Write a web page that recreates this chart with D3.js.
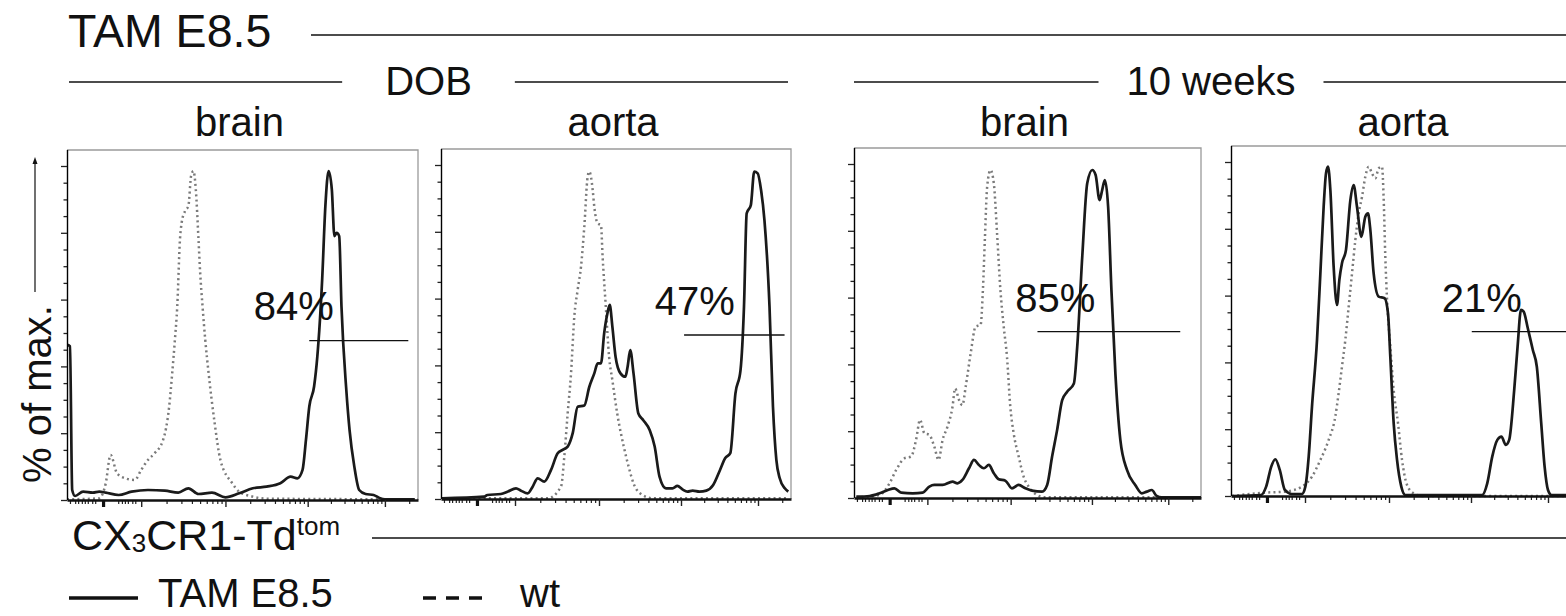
<!DOCTYPE html>
<html><head><meta charset="utf-8">
<script src="https://cdn.jsdelivr.net/npm/d3@7"></script>
<style>
body{margin:0;background:#fff;}
svg text{font-family:"Liberation Sans", Arial, Helvetica, sans-serif; fill:#111;}
</style></head><body>
<svg id="chart" width="1566" height="616"></svg>
<script>
// ---------------- DATA ----------------
// x values: display position in decades of CX3CR1-Td^tom fluorescence (2 = 10^2 ... 5 = 10^5)
// y values: % of max.
const titleText = "TAM E8.5";
const groupLabels = ["DOB", "10 weeks"];
const tissueLabels = ["brain", "aorta", "brain", "aorta"];
const gateTexts = ["84%", "47%", "85%", "21%"];
const gateRanges = [[4.02, 5.29], [4.04, 5.33], [3.33, 5.15], [4.01, 5.41]];
const gateLevels = [47.7, 49.1, 49.8, 49.2];
const gateLabelAt = [[3.83, 53.9], [4.18, 55.1], [3.55, 55.7], [4.14, 55.1]];
const legendLabels = ["TAM E8.5", "wt"];
const yAxisLabel = "% of max.";

const xDomainStops = [1, 2, 3, 4, 5, 5.41];
const xZeroTick = [1.486];
const xMajorTicks = [2, 3, 4, 5];
const xMinorTicks = [1.04, 1.11, 1.15, 1.2, 1.24, 1.28, 1.34, 1.38,
  1.69, 1.74, 1.78, 1.82, 1.88, 1.92,
  2.301, 2.477, 2.602, 2.699, 2.778, 2.845, 2.903, 2.954,
  3.301, 3.477, 3.602, 3.699, 3.778, 3.845, 3.903, 3.954,
  4.301, 4.477, 4.602, 4.699, 4.778, 4.845, 4.903, 4.954, 5.301];
const yMajorTicks = [0, 20, 40, 60, 80, 100];
const yMinorTicks = [5, 10, 15, 25, 30, 35, 45, 50, 55, 65, 70, 75, 85, 90, 95];

const tamDOBbrain = [[1.005,46.5],[1.04,46],[1.07,3],[1.109,1.2],[1.217,2.5],[1.348,2.2],[1.435,2.5],[1.522,2.2],[1.696,1.5],[1.87,2.5],[2.08,3],[2.28,2.8],[2.44,2.2],[2.56,3.5],[2.68,1.8],[2.84,2.2],[3.0,0.8],[3.167,2],[3.333,3.5],[3.5,4],[3.667,5],[3.792,7],[3.875,6.5],[3.9375,9],[3.979,18],[4.021,28],[4.083,34],[4.125,43],[4.1875,66],[4.229,88],[4.271,98.5],[4.3125,93],[4.346,79],[4.375,80],[4.408,79],[4.4375,58],[4.5,33],[4.542,21],[4.604,10],[4.667,3],[4.75,1.8],[4.854,1.5],[4.9375,0.5],[5.0,0.2],[5.37,0.2]];
const wtDOBbrain = [[1.0,0.2],[1.435,0.5],[1.522,5],[1.587,13.5],[1.674,8],[1.783,6.5],[1.913,6],[2.0,9],[2.08,12],[2.16,14],[2.26,18],[2.332,28],[2.368,38],[2.4,48],[2.428,58],[2.46,78],[2.48,83],[2.52,86.5],[2.56,88],[2.592,97],[2.62,98.5],[2.648,93],[2.68,78],[2.7,68],[2.728,58],[2.76,48],[2.8,38],[2.872,23],[2.94,12],[3.083,5],[3.167,2.5],[3.333,1],[3.5,0.4],[5.41,0.2]];

const tamDOBaorta = [[1.014,0.2],[1.582,0.7],[1.627,1.2],[1.809,1.5],[1.9,2.2],[2.012,3.2],[2.071,2.5],[2.151,1.7],[2.21,3.7],[2.27,6.2],[2.349,5.2],[2.429,8.7],[2.508,13.7],[2.567,14.7],[2.627,15.7],[2.687,19.7],[2.746,27.6],[2.825,28],[2.885,33.6],[2.944,37.6],[2.984,40.6],[3.024,40.6],[3.063,49.6],[3.103,55.6],[3.131,58.1],[3.163,51.6],[3.202,42.6],[3.262,37.6],[3.321,36.6],[3.349,39.6],[3.381,44.6],[3.421,37.6],[3.48,25.6],[3.54,23.6],[3.619,20.6],[3.679,15.7],[3.738,6.7],[3.817,3.2],[3.897,3.2],[3.956,3.9],[4.018,2.9],[4.084,2.2],[4.151,2.5],[4.24,2.2],[4.329,2.5],[4.418,4.2],[4.507,8.7],[4.573,12.2],[4.64,13.7],[4.707,31.6],[4.773,38.6],[4.818,57.6],[4.853,85.5],[4.907,88],[4.951,98],[4.996,97.5],[5.038,92.5],[5.08,83.5],[5.143,57.6],[5.186,27.6],[5.228,11.7],[5.27,6.2],[5.333,3.2],[5.376,2.2]];
const wtDOBaorta = [[1.014,0.2],[2.389,0.2],[2.548,3.7],[2.587,12.7],[2.627,25.6],[2.667,37.6],[2.706,54.6],[2.746,62.6],[2.786,69.6],[2.825,81.5],[2.865,96.5],[2.885,98],[2.925,92.5],[2.944,87.5],[2.984,82.5],[3.024,82],[3.044,72.6],[3.083,57.6],[3.123,42.6],[3.163,35.6],[3.222,25.6],[3.302,15.7],[3.361,9.7],[3.421,4.7],[3.5,1.7],[3.659,0.2],[5.376,0.2]];

const tam10wkBrain = [[1.032,0.4],[1.213,0.6],[1.348,1.4],[1.462,2.4],[1.552,2.9],[1.643,1.6],[1.801,1.4],[1.937,1.6],[2.024,3.4],[2.083,3.9],[2.183,3.9],[2.302,4.9],[2.361,4.4],[2.421,5.4],[2.5,8.9],[2.56,11.4],[2.619,9.9],[2.679,8.9],[2.738,9.9],[2.798,7.4],[2.857,5.6],[2.937,5.2],[3.016,2.9],[3.099,3.9],[3.181,2.9],[3.263,2.2],[3.387,1.9],[3.449,3.9],[3.51,12.4],[3.572,20.4],[3.634,29.3],[3.695,31.8],[3.778,34.3],[3.819,45.3],[3.881,72.3],[3.942,94.2],[4.004,98.2],[4.048,96.7],[4.1,89.2],[4.134,92.2],[4.169,95.2],[4.212,87.2],[4.255,62.3],[4.307,37.3],[4.372,17.4],[4.459,8.4],[4.567,3.9],[4.654,1.4],[4.719,1.9],[4.784,2.4],[4.848,0.6],[4.913,0.2],[5.41,0.2]];
const wt10wkBrain = [[1.032,0.2],[1.348,0.9],[1.484,4.4],[1.575,8.4],[1.688,11.9],[1.778,12.4],[1.846,17.4],[1.9,23.4],[1.959,19.4],[2.024,18.9],[2.083,15.4],[2.135,11.4],[2.183,17.4],[2.242,21.4],[2.302,27.3],[2.333,32.8],[2.381,29.3],[2.421,27.8],[2.46,33.3],[2.52,43.3],[2.579,51.3],[2.639,51.8],[2.667,62.3],[2.69,77.2],[2.718,93.2],[2.758,98.2],[2.798,94.2],[2.837,79.2],[2.877,62.3],[2.917,51.3],[2.956,42.3],[2.996,27.3],[3.037,19.4],[3.099,12.4],[3.16,6.4],[3.222,3.4],[3.305,1.2],[3.428,0.2],[5.41,0.2]];

const tam10wkAorta = [[1.014,0],[1.406,0.3],[1.475,2.8],[1.544,8.8],[1.599,11],[1.659,7.8],[1.728,1.8],[1.82,0.6],[1.959,0.6],[2.004,2.8],[2.044,11.8],[2.083,26.7],[2.143,46.7],[2.183,66.7],[2.222,86.6],[2.25,96.6],[2.274,98.6],[2.302,91.6],[2.341,68.7],[2.381,57.2],[2.409,64.7],[2.44,69.7],[2.488,73.7],[2.54,88.6],[2.579,93.1],[2.619,86.6],[2.671,77.6],[2.718,83.6],[2.75,84.6],[2.778,79.6],[2.817,66.7],[2.877,59.7],[2.948,59.2],[2.988,54.7],[3.016,41.7],[3.057,21.8],[3.098,10.8],[3.15,2.8],[3.199,0.3],[4.145,0.3],[4.211,3.8],[4.276,11.8],[4.342,16.8],[4.395,17.8],[4.452,15.3],[4.496,16.8],[4.561,31.7],[4.605,44.7],[4.649,55.7],[4.684,55.2],[4.737,50.3],[4.803,43.7],[4.855,38.7],[4.912,21.8],[4.956,8.8],[5.0,1.8],[5.043,0.3],[5.41,0.3]];
const wt10wkAorta = [[1.014,0],[1.452,1.0],[1.728,1.3],[1.959,2.8],[2.083,5.8],[2.183,10.8],[2.282,16.8],[2.361,23.8],[2.4,30.7],[2.44,38.7],[2.48,46.7],[2.52,56.7],[2.56,66.7],[2.599,76.6],[2.639,84.6],[2.679,89.6],[2.718,95.6],[2.758,98.6],[2.798,96.6],[2.837,95.1],[2.877,98.1],[2.917,98.6],[2.937,88.6],[2.956,71.7],[2.976,59.2],[3.016,44.7],[3.057,31.7],[3.11,21.8],[3.159,10.8],[3.22,3.3],[3.301,0.8],[3.402,0],[5.41,0]];

const tamSeries = [tamDOBbrain, tamDOBaorta, tam10wkBrain, tam10wkAorta];
const wtSeries = [wtDOBbrain, wtDOBaorta, wt10wkBrain, wt10wkAorta];

// ---------------- LAYOUT ----------------
const panels = [
  {left: 67, bottom: 500, width: 351},
  {left: 441, bottom: 499, width: 350},
  {left: 854, bottom: 498, width: 347},
  {left: 1231, bottom: 496, width: 350}
];
const xRangeStops = [0, 74, 158, 240, 317, 350];
const FS = 40;

const svg = d3.select("#chart");
svg.append("rect").attr("width", 1566).attr("height", 616).attr("fill", "#fff");

panels.forEach((p, i) => {
  const x = d3.scaleLinear().domain(xDomainStops)
    .range(xRangeStops.map(r => p.left + r * p.width / 350));
  const y = d3.scaleLinear().domain([0, 100]).range([p.bottom, p.bottom - 334]);
  const top = p.bottom - 350, right = p.left + p.width;
  const g = svg.append("g");

  // frame (top & right)
  g.append("path")
    .attr("d", `M${p.left},${top}H${right}V${p.bottom}`)
    .attr("fill", "none").attr("stroke", "#9a9a9a").attr("stroke-width", 1.3);

  const line = d3.line().x(d => x(d[0])).y(d => y(d[1])).curve(d3.curveMonotoneX);

  g.append("path").datum(wtSeries[i]).attr("d", line)
    .attr("fill", "none").attr("stroke", "#7a7a7a").attr("stroke-width", 2.5)
    .attr("stroke-dasharray", "2,3.2");
  g.append("path").datum(tamSeries[i]).attr("d", line)
    .attr("fill", "none").attr("stroke", "#1a1a1a").attr("stroke-width", 2.7)
    .attr("stroke-linejoin", "round");

  // y axis
  const yMinor = g.append("g").attr("transform", `translate(${p.left},0)`)
    .call(d3.axisLeft(y).tickValues(yMinorTicks).tickSize(3.5).tickFormat(""));
  yMinor.select(".domain").remove();
  const yMaj = g.append("g").attr("transform", `translate(${p.left},0)`)
    .call(d3.axisLeft(y).tickValues(yMajorTicks).tickSize(6).tickFormat("").tickSizeOuter(0));
  yMaj.select(".domain").attr("d", `M0.5,${p.bottom}V${top}`).attr("stroke-width", 1.4);
  g.selectAll("g.tick line").attr("stroke", "#222").attr("stroke-width", 1.3);

  // x axis
  const xMinor = g.append("g").attr("transform", `translate(0,${p.bottom})`)
    .call(d3.axisBottom(x).tickValues(xMinorTicks).tickSize(4).tickFormat(""));
  xMinor.select(".domain").remove();
  xMinor.selectAll("line").attr("stroke", "#222").attr("stroke-width", 1.2);
  const xMaj = g.append("g").attr("transform", `translate(0,${p.bottom})`)
    .call(d3.axisBottom(x).tickValues(xMajorTicks).tickSize(7).tickFormat("").tickSizeOuter(0));
  xMaj.select(".domain").attr("stroke-width", 2.5).attr("stroke", "#111");
  xMaj.selectAll("line").attr("stroke", "#222").attr("stroke-width", 1.4);
  const xZero = g.append("g").attr("transform", `translate(0,${p.bottom})`)
    .call(d3.axisBottom(x).tickValues(xZeroTick).tickSize(7).tickFormat(""));
  xZero.select(".domain").remove();
  xZero.selectAll("line").attr("stroke", "#111").attr("stroke-width", 3.2);

  // gate
  g.append("line")
    .attr("x1", x(gateRanges[i][0])).attr("x2", x(gateRanges[i][1]))
    .attr("y1", y(gateLevels[i])).attr("y2", y(gateLevels[i]))
    .attr("stroke", "#111").attr("stroke-width", 1.3);
  g.append("text").attr("x", x(gateLabelAt[i][0])).attr("y", y(gateLabelAt[i][1]))
    .attr("text-anchor", "middle").attr("font-size", FS).text(gateTexts[i]);

  // tissue label
  svg.append("text").attr("x", p.left + p.width / 2 - 3).attr("y", 136)
    .attr("text-anchor", "middle").attr("font-size", FS).text(tissueLabels[i]);
});

// title
svg.append("text").attr("x", 68).attr("y", 47).attr("font-size", 46.5).text(titleText);
svg.append("line").attr("x1", 311).attr("x2", 1566).attr("y1", 35).attr("y2", 35)
  .attr("stroke", "#111").attr("stroke-width", 1.3);

// group labels with rules
const groups = [{x0: 69, x1: 788, gap: 43}, {x0: 854, x1: 1568, gap: 28}];
groups.forEach((gr, k) => {
  const cx = (gr.x0 + gr.x1) / 2;
  const t = svg.append("text").attr("x", cx).attr("y", 95).attr("text-anchor", "middle")
    .attr("font-size", FS).text(groupLabels[k]);
  const w = t.node().getComputedTextLength();
  svg.append("line").attr("x1", gr.x0).attr("x2", cx - w / 2 - gr.gap).attr("y1", 82).attr("y2", 82)
    .attr("stroke", "#111").attr("stroke-width", 1.3);
  svg.append("line").attr("x1", cx + w / 2 + gr.gap).attr("x2", gr.x1).attr("y1", 82).attr("y2", 82)
    .attr("stroke", "#111").attr("stroke-width", 1.3);
});

// y axis label + arrow
svg.append("text").attr("transform", "translate(51,483) rotate(-90)")
  .attr("font-size", FS).text(yAxisLabel);
svg.append("line").attr("x1", 35).attr("x2", 35).attr("y1", 292).attr("y2", 162)
  .attr("stroke", "#111").attr("stroke-width", 1.2);
svg.append("path").attr("d", "M35,157 L32.5,164 L37.5,164 Z").attr("fill", "#111");

// x axis label
const xl = svg.append("text").attr("x", 72).attr("y", 550).attr("font-size", 43);
xl.append("tspan").text("CX");
xl.append("tspan").attr("font-size", 26).attr("dy", 2).text("3");
xl.append("tspan").attr("dy", -2).text("CR1-Td");
xl.append("tspan").attr("font-size", 26).attr("dy", -15).text("tom");
svg.append("line").attr("x1", 372).attr("x2", 1566).attr("y1", 538).attr("y2", 538)
  .attr("stroke", "#111").attr("stroke-width", 1.3);

// legend
svg.append("line").attr("x1", 69).attr("x2", 138).attr("y1", 598).attr("y2", 598)
  .attr("stroke", "#111").attr("stroke-width", 3.5);
svg.append("text").attr("x", 158).attr("y", 607).attr("font-size", FS).text(legendLabels[0]);
svg.append("line").attr("x1", 423).attr("x2", 482).attr("y1", 598).attr("y2", 598)
  .attr("stroke", "#111").attr("stroke-width", 3.5).attr("stroke-dasharray", "13,10");
svg.append("text").attr("x", 520).attr("y", 607).attr("font-size", FS).text(legendLabels[1]);
</script>
</body></html>
